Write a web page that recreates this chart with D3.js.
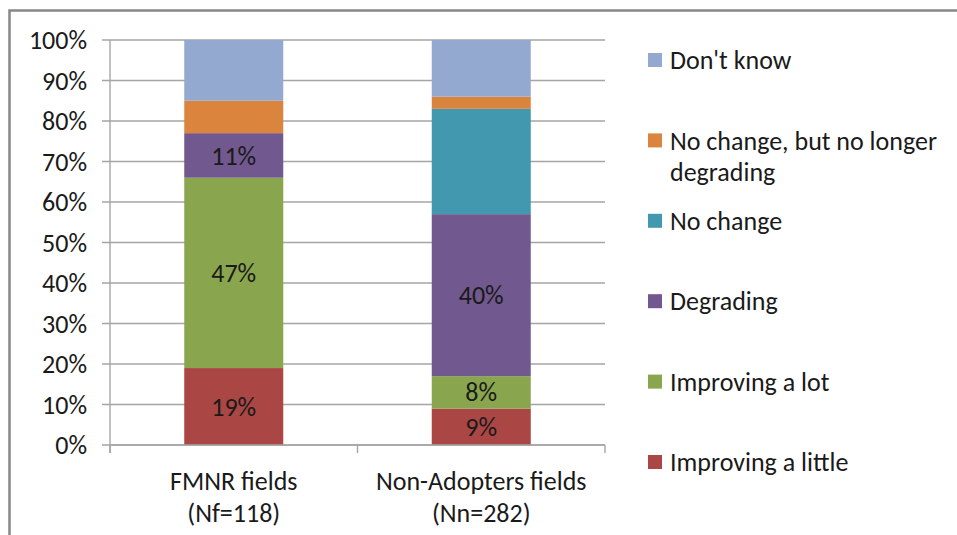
<!DOCTYPE html>
<html>
<head>
<meta charset="utf-8">
<script src="https://cdn.jsdelivr.net/npm/d3@7"></script>
<style>
  html, body { margin: 0; padding: 0; background: #fff; }
  svg { display: block; }
  text { font-family: Carlito, Calibri, Lato, "Open Sans", sans-serif; fill: #1a1a1a; }
</style>
</head>
<body>
<svg id="chart" width="957" height="535"></svg>
<script>
// Field condition by group, share of respondents (%)
const categories = ["FMNR fields|(Nf=118)", "Non-Adopters fields|(Nn=282)"];
const seriesNames = ["Improving a little", "Improving a lot", "Degrading", "No change",
                     "No change, but no longer degrading", "Don't know"];
const improvingLittle   = [19, 9];
const improvingLot      = [47, 8];
const degrading         = [11, 40];
const noChange          = [0, 26];
const noLongerDegrading = [8, 3];
const dontKnow          = [15, 14];
const labelledSeries    = ["Improving a little", "Improving a lot", "Degrading"];
const seriesColors      = ["#AA4643", "#89A54E", "#71588F", "#4198AF", "#DB843D", "#93A9CF"];
const yTicks            = [0, 10, 20, 30, 40, 50, 60, 70, 80, 90, 100];

const seriesValues = [improvingLittle, improvingLot, degrading, noChange, noLongerDegrading, dontKnow];
const rows = categories.map((c, i) => {
  const r = { category: c };
  seriesNames.forEach((s, k) => { r[s] = seriesValues[k][i]; });
  return r;
});

const svg = d3.select("#chart");
const FONT = 26;

// outer frame
svg.append("rect")
  .attr("x", 9.5).attr("y", 10.5).attr("width", 1000).attr("height", 600)
  .attr("fill", "none").attr("stroke", "#878787").attr("stroke-width", 2.5);

const plot = { left: 110, right: 605, top: 40, bottom: 445 };

const x = d3.scaleBand().domain(categories)
  .range([plot.left, plot.right]).paddingInner(0.6).paddingOuter(0.3);
const xEdges = d3.scaleBand().domain(categories).range([plot.left, plot.right]);
const y = d3.scaleLinear().domain([0, 100]).range([plot.bottom, plot.top]);
const color = d3.scaleOrdinal().domain(seriesNames).range(seriesColors);

// gridlines (extending left as tick marks)
svg.append("g").selectAll("line").data(yTicks).join("line")
  .attr("x1", plot.left - 8).attr("x2", plot.right)
  .attr("y1", d => y(d)).attr("y2", d => y(d))
  .attr("stroke", "#A5A5A5").attr("stroke-width", 1.4);

// y tick labels
svg.append("g").selectAll("text").data(yTicks).join("text")
  .attr("x", 87).attr("y", d => y(d)).attr("dy", "0.35em")
  .attr("text-anchor", "end").attr("font-size", FONT)
  .text(d => d + "%");

// stacked bars
const stacked = d3.stack().keys(seriesNames)(rows);
const layers = svg.append("g").selectAll("g").data(stacked).join("g")
  .attr("fill", d => color(d.key));
layers.selectAll("rect").data(d => d.map(p => ({ p, key: d.key }))).join("rect")
  .attr("x", d => x(d.p.data.category))
  .attr("width", x.bandwidth())
  .attr("y", d => y(d.p[1]))
  .attr("height", d => y(d.p[0]) - y(d.p[1]));

// value labels
svg.append("g").selectAll("text")
  .data(stacked.filter(s => labelledSeries.includes(s.key))
    .flatMap(s => s.map(p => ({ p, key: s.key }))))
  .join("text")
  .attr("x", d => x(d.p.data.category) + x.bandwidth() / 2)
  .attr("y", d => y((d.p[0] + d.p[1]) / 2))
  .attr("dy", "0.35em").attr("text-anchor", "middle").attr("font-size", FONT)
  .text(d => (d.p[1] - d.p[0]) + "%");

// axes lines
svg.append("line")
  .attr("x1", plot.left).attr("x2", plot.left)
  .attr("y1", plot.top).attr("y2", plot.bottom + 8)
  .attr("stroke", "#A5A5A5").attr("stroke-width", 1.4);
svg.append("line")
  .attr("x1", plot.left).attr("x2", plot.right)
  .attr("y1", plot.bottom).attr("y2", plot.bottom)
  .attr("stroke", "#A5A5A5").attr("stroke-width", 1.4);
const edges = categories.map(c => xEdges(c)).concat([plot.right]);
svg.append("g").selectAll("line").data(edges).join("line")
  .attr("x1", d => d).attr("x2", d => d)
  .attr("y1", plot.bottom).attr("y2", plot.bottom + 8)
  .attr("stroke", "#A5A5A5").attr("stroke-width", 1.4);

// category labels
const catLabels = svg.append("g").selectAll("text").data(categories).join("text")
  .attr("text-anchor", "middle").attr("font-size", FONT);
catLabels.selectAll("tspan").data(d => d.split("|").map(t => ({ t, c: d }))).join("tspan")
  .attr("x", d => xEdges(d.c) + xEdges.bandwidth() / 2)
  .attr("y", (d, i) => 481 + i * 32)
  .attr("dy", "0.35em")
  .text(d => d.t);

// legend (top to bottom reverses stacking order)
const legendNames = seriesNames.slice().reverse();
const legendLines = {
  "No change, but no longer degrading": ["No change, but no longer", "degrading"]
};
const legendY = d3.scalePoint().domain(legendNames).range([60, 462]);
const leg = svg.append("g").selectAll("g").data(legendNames).join("g")
  .attr("transform", d => `translate(648,${legendY(d)})`);
leg.append("rect")
  .attr("x", 0).attr("y", -7).attr("width", 14).attr("height", 14)
  .attr("fill", d => color(d));
leg.append("text").attr("font-size", FONT)
  .selectAll("tspan").data(d => legendLines[d] || [d]).join("tspan")
  .attr("x", 22).attr("y", (d, i) => i * 32).attr("dy", "0.35em")
  .text(d => d);
</script>
</body>
</html>
